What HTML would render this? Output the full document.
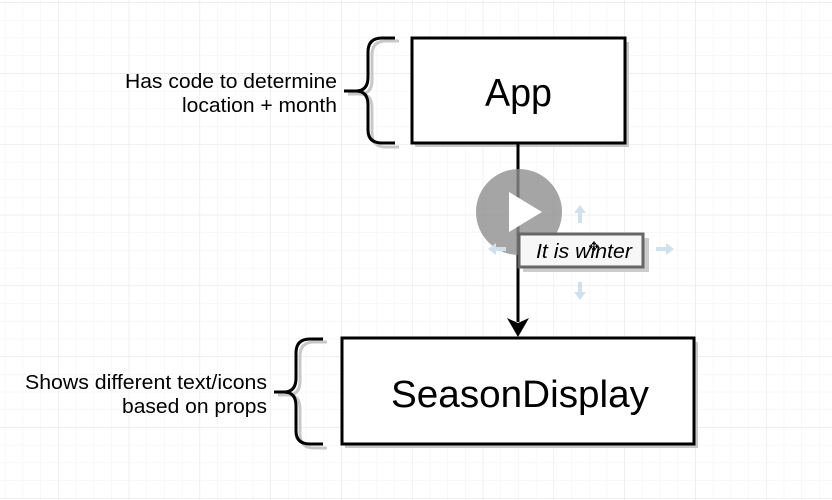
<!DOCTYPE html>
<html><head><meta charset="utf-8"><style>
html,body{margin:0;padding:0;background:#fff;}
svg{display:block;}
text{font-family:"Liberation Sans",Arial,sans-serif;fill:#000;}
</style></head><body>
<svg width="832" height="500" viewBox="0 0 832 500" xmlns="http://www.w3.org/2000/svg">
<defs>
<pattern id="minor" x="58" y="144" width="17.7" height="17.7" patternUnits="userSpaceOnUse">
<path d="M0 0V17.7M0 0H17.7" stroke="#f1f1f1" stroke-width="1" fill="none"/>
</pattern>
<pattern id="major" x="58" y="144" width="70.8" height="70.8" patternUnits="userSpaceOnUse">
<path d="M0 0V70.8M0 0H70.8" stroke="#e4e4e4" stroke-width="1" fill="none"/>
</pattern>
</defs>
<rect width="832" height="500" fill="url(#minor)"/>
<rect width="832" height="500" fill="url(#major)"/>

<!-- shadows -->
<rect x="415" y="42" width="214" height="105" fill="#c8c8c8"/>
<rect x="345" y="342" width="353" height="106" fill="#c8c8c8"/>
<path d="M399 41 H386 Q372 41 372 55 V80 Q372 94 360 94 H348 M360 94 Q372 94 372 108 V133 Q372 147 386 147 H399" stroke="#c8c8c8" stroke-width="3" fill="none"/>
<path d="M327 342 H314 Q300 342 300 356 V381 Q300 395 288 395 H278 M288 395 Q300 395 300 409 V434 Q300 448 314 448 H327" stroke="#c8c8c8" stroke-width="3" fill="none"/>

<!-- boxes -->
<rect x="412" y="38" width="213" height="105" fill="#fff" stroke="#000" stroke-width="3"/>
<rect x="342" y="338" width="352" height="106" fill="#fff" stroke="#000" stroke-width="3"/>
<text x="485" y="106" font-size="39" textLength="67" lengthAdjust="spacingAndGlyphs">App</text>
<text x="391" y="407" font-size="38" textLength="258" lengthAdjust="spacingAndGlyphs">SeasonDisplay</text>

<!-- braces -->
<path d="M395 38 H382 Q368 38 368 52 V77 Q368 91 356 91 H344 M356 91 Q368 91 368 105 V130 Q368 143 382 143 H395" stroke="#000" stroke-width="3" fill="none"/>
<path d="M323 339 H310 Q296 339 296 353 V378 Q296 392 284 392 H274 M284 392 Q296 392 296 406 V431 Q296 444 310 444 H323" stroke="#000" stroke-width="3" fill="none"/>

<text x="125" y="88" font-size="20" textLength="212" lengthAdjust="spacingAndGlyphs">Has code to determine</text>
<text x="182" y="112" font-size="20" textLength="155" lengthAdjust="spacingAndGlyphs">location + month</text>
<text x="25" y="389" font-size="20" textLength="242" lengthAdjust="spacingAndGlyphs">Shows different text/icons</text>
<text x="122" y="413" font-size="20" textLength="145" lengthAdjust="spacingAndGlyphs">based on props</text>

<!-- connector -->
<line x1="518" y1="143" x2="518" y2="322" stroke="#000" stroke-width="3"/>
<path d="M507 318 L518 337 L529 318 L518 323 Z" fill="#000"/>

<!-- play overlay -->
<circle cx="519" cy="212" r="43" fill="#8e8e8e" fill-opacity="0.8"/>
<path d="M509 192 L542 212 L509 232 Z" fill="#fff"/>

<!-- hover arrows -->
<g fill="#cfe0f0">
<path d="M580 205 L586 213 L582 213 L582 223 L578 223 L578 213 L574 213 Z"/>
<path d="M580 300 L586 292 L582 292 L582 282 L578 282 L578 292 L574 292 Z"/>
<path d="M674 249 L666 243 L666 247 L656 247 L656 251 L666 251 L666 255 Z"/>
<path d="M488 249 L496 243 L496 247 L506 247 L506 251 L496 251 L496 255 Z"/>
</g>

<!-- label -->
<rect x="523" y="238" width="126" height="34" fill="#ccc"/>
<rect x="519" y="234" width="124" height="33" fill="#f7f7f7" stroke="#666" stroke-width="3"/>
<text x="536" y="258" font-size="20" font-style="italic" fill="#222" textLength="96" lengthAdjust="spacingAndGlyphs">It is winter</text>
<text x="594" y="251" font-size="13" text-anchor="middle">✥</text>
</svg>
</body></html>
